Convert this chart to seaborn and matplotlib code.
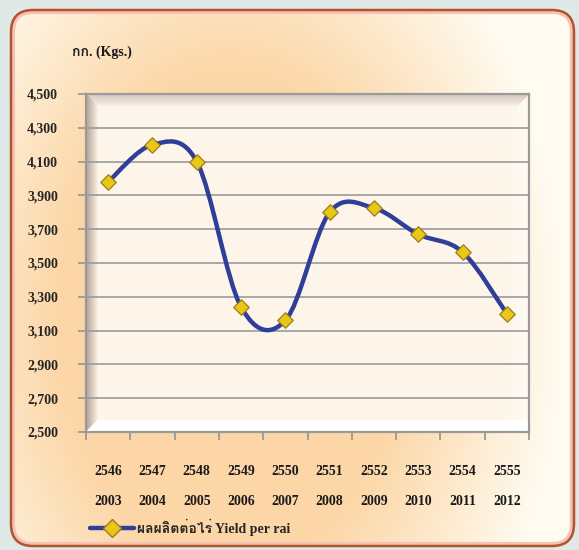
import numpy as np
import matplotlib
matplotlib.use("Agg")
import matplotlib.pyplot as plt
import seaborn as sns
from matplotlib import font_manager
from matplotlib.ft2font import FT2Font
from matplotlib.patches import FancyBboxPatch, PathPatch
from matplotlib.path import Path
from matplotlib.lines import Line2D

# data
thai_years = ["2546", "2547", "2548", "2549", "2550", "2551", "2552", "2553", "2554", "2555"]
years = ["2003", "2004", "2005", "2006", "2007", "2008", "2009", "2010", "2011", "2012"]
yield_per_rai = [3980, 4200, 4100, 3240, 3160, 3800, 3825, 3670, 3565, 3200]
y_ticks = [2500, 2700, 2900, 3100, 3300, 3500, 3700, 3900, 4100, 4300, 4500]
series_label = "ผลผลิตต่อไร่ Yield per rai"
unit_label = "กก. (Kgs.)"

W, H = 579, 550


def thai_family():
    """Find an installed family that can draw Thai glyphs."""
    for f in font_manager.fontManager.ttflist:
        try:
            if FT2Font(f.fname).get_char_index(ord("ผ")):
                return f.name
        except Exception:
            pass
    return "DejaVu Sans"


def smooth_path(xs, ys):
    """Bezier path through the points, like a spreadsheet 'smoothed line'."""
    pts = np.column_stack([xs, ys]).astype(float)
    verts, codes = [pts[0]], [Path.MOVETO]
    for i in range(len(pts) - 1):
        p0 = pts[i - 1] if i > 0 else pts[i]
        p1, p2 = pts[i], pts[i + 1]
        p3 = pts[i + 2] if i + 2 < len(pts) else pts[i + 1]
        verts += [p1 + (p2 - p0) / 6, p2 - (p3 - p1) / 6, p2]
        codes += [Path.CURVE4] * 3
    return Path(verts, codes)


def lerp(c0, c1, t):
    t = np.clip(t, 0, 1)[..., None]
    return np.array(c0) * (1 - t) + np.array(c1) * t


sns.set_style("white")
fonts = ["Liberation Serif", thai_family()]
plt.rcParams["font.family"] = fonts
plt.rcParams["font.weight"] = "bold"

fig = plt.figure(figsize=(W / 100, H / 100), dpi=100)
fig.patch.set_facecolor("#dfe9e7")

# card background with warm gradient
bg = fig.add_axes([0, 0, 1, 1], zorder=-10)
bg.set_xlim(0, W)
bg.set_ylim(H, 0)
bg.axis("off")
yy, xx = np.mgrid[0:H, 0:W]
d = np.sqrt((xx - 230) ** 2 + (0.7 * (yy - 320)) ** 2)
grad = lerp((252, 214, 166), (255, 251, 240), (d - 170) / 160) / 255
card = FancyBboxPatch((11, 10), 563, 536, boxstyle="round,pad=0,rounding_size=22",
                      facecolor="none", edgecolor="none", transform=bg.transData)
bg.add_patch(card)
img = bg.imshow(grad, extent=(0, W, H, 0), aspect="auto", interpolation="bilinear")
img.set_clip_path(card)
bg.add_patch(FancyBboxPatch((13, 12), 559, 532, boxstyle="round,pad=0,rounding_size=20",
                            facecolor="none", edgecolor="#f6c2b4", lw=3))
bg.add_patch(FancyBboxPatch((11, 10), 563, 536, boxstyle="round,pad=0,rounding_size=22",
                            facecolor="none", edgecolor="#b4532c", lw=1.8))

# plot area (pixel box 86..529 x 94..432)
pos = [86 / W, 1 - 432 / H, (529 - 86) / W, (432 - 94) / H]

# beveled 3d wall behind the plot
wall = fig.add_axes(pos, zorder=-5)
wall.axis("off")
pw, ph = 443, 338
v, u = np.mgrid[0:ph, 0:pw]
v = ph - 1 - v                  # px from bottom
w = ph - 1 - v                  # px from top
r = pw - 1 - u                  # px from right
cream = (253, 246, 233)
face = np.ones((ph, pw, 3)) * np.array(cream)
m = r < 22
face[m] = lerp(cream, (255, 251, 244), 1 - r / 22)[m]
m = (w < 12) & (u >= w) & (r >= w)
face[m] = lerp((214, 200, 192), (249, 241, 232), w / 12)[m]
m = (u < 12) & (v >= u) & (w >= u)
face[m] = lerp((182, 163, 151), cream, u / 12)[m]
m = (v < 12) & (u >= v)
face[m] = np.array((255, 255, 255))
wall.imshow(face / 255, extent=(0, 1, 0, 1), aspect="auto")
wall.set_xlim(0, 1)
wall.set_ylim(0, 1)

ax = fig.add_axes(pos)
ax.set_facecolor("none")
n = len(years)
xs = np.arange(n)

ax.add_patch(PathPatch(smooth_path(xs, yield_per_rai), facecolor="none",
                       edgecolor="#2f3e98", lw=3.2, capstyle="round", zorder=3))
sns.scatterplot(x=xs, y=yield_per_rai, marker="D", s=62, color="#e6c816",
                edgecolor="#a27a1c", linewidth=0.9, ax=ax, zorder=4, legend=False)

ax.set_xlim(-0.5, n - 0.5)
ax.set_ylim(2500, 4500)
ax.set_yticks(y_ticks)
ax.set_yticklabels([f"{t:,}" for t in y_ticks], fontsize=10, fontweight="bold")
ax.set_xticks(np.arange(-0.5, n, 1))
ax.set_xticklabels([])
ax.tick_params(axis="both", direction="out", length=6, width=1.3, color="#9a9a9a")
ax.tick_params(axis="y", pad=14, left=True)
ax.tick_params(axis="x", bottom=True)
ax.grid(axis="y", color="#9a9a9a", lw=1.2, zorder=1)
ax.grid(axis="x", visible=False)
for s in ax.spines.values():
    s.set_color("#9a9a9a")
    s.set_linewidth(1.6)
ax.set_xlabel("")
ax.set_ylabel("")

# two-row category labels
for i in xs:
    ax.text(i, -0.1175, thai_years[i], transform=ax.get_xaxis_transform(),
            ha="center", va="center", fontsize=10, fontweight="bold", color="#1a1a1a")
    ax.text(i, -0.206, years[i], transform=ax.get_xaxis_transform(),
            ha="center", va="center", fontsize=10, fontweight="bold", color="#1a1a1a")

fig.text(72 / W, 1 - 52 / H, unit_label, ha="left", va="center",
         fontsize=10, fontweight="bold", color="#1a1a1a")

handle = Line2D([], [], color="#2f3e98", lw=3.2, marker="D", markersize=9,
                markerfacecolor="#e6c816", markeredgecolor="#a27a1c")
fig.legend([handle], [series_label], loc="center left",
           bbox_to_anchor=(90 / W, 1 - 527 / H), frameon=False, fontsize=10,
           handlelength=3.2, handletextpad=0.2, borderpad=0, borderaxespad=0,
           prop={"weight": "bold", "size": 10, "family": fonts})

fig.savefig("out.png", dpi=100)
